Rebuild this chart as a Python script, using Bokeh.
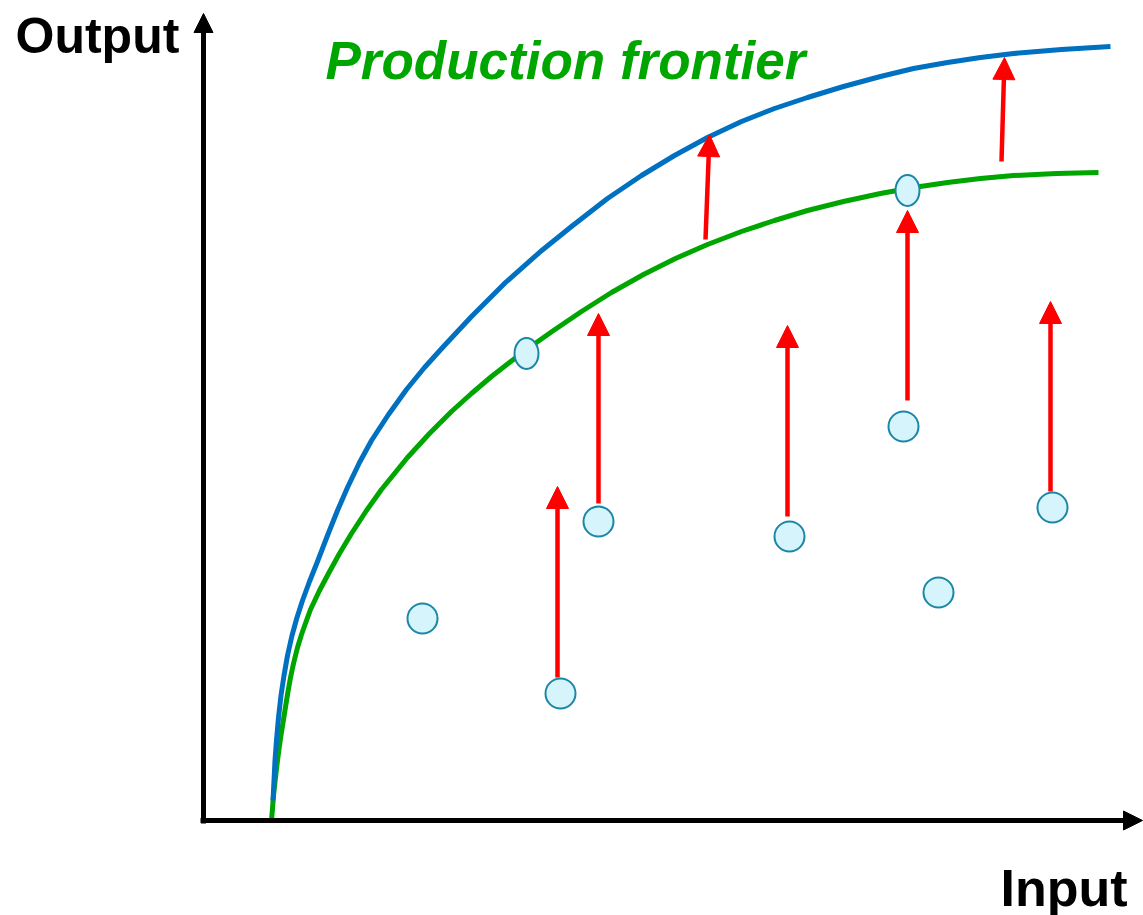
from bokeh.plotting import figure
from bokeh.models import ColumnDataSource, Arrow, NormalHead, Label, Range1d
from bokeh.embed import file_html
from bokeh.resources import INLINE

# ---- data (input / output units; origin at the axis corner) ----
green_input = [68, 69, 70, 72, 74, 77, 80, 84, 87, 90, 94, 98, 103, 107, 116,
               125, 136, 148, 163, 178, 191, 204, 226, 248, 268, 288, 306, 323, 350, 378,
               408, 440, 472, 504, 538, 571, 604, 640, 677, 710, 744, 777, 810, 853, 895]
green_output = [0, 12, 25, 43, 60, 82, 101, 126, 143, 157, 173, 186, 200, 211, 230,
                247, 267, 287, 310, 331, 347, 363, 387, 409, 427, 444, 458, 471, 490, 509,
                528, 546, 562, 576, 589, 600, 610, 619, 627, 633, 638, 642, 645, 647, 648]

blue_input = [69.5, 70.5, 71.5, 73, 75, 77.5, 80.5, 84, 88.5, 93.5, 99, 106, 114, 124,
              134, 144, 156, 168, 185, 203, 221, 240, 268, 302, 337, 368, 404, 438, 471,
              504, 538, 571, 604, 640, 677, 710, 744, 777, 810, 858, 907]
blue_output = [20, 40, 60, 80, 103, 125, 145, 165, 185, 203, 220, 239, 259, 285,
               310, 333, 358, 380, 406, 431, 453, 474, 504, 538, 569, 594, 622, 645, 665,
               683, 699, 712, 723, 734, 744, 752, 758, 763, 767, 771, 774]

firm_input = [219, 357, 395, 586, 700, 735, 849]
firm_output = [202, 127, 299, 284, 394, 228, 313]

frontier_firm_input = [323, 704]
frontier_firm_output = [467, 630]

arrow_x_start = [354, 395, 584, 704, 847, 502, 798]
arrow_y_start = [143, 317, 304, 420, 329, 581, 659]
arrow_x_end = [354, 395, 584, 704, 847, 506, 801]
arrow_y_end = [334, 507, 495, 610, 519, 686, 763]

GREEN = "#00A600"
BLUE = "#0070C0"
RED = "#FF0000"

p = figure(width=1143, height=915, output_backend="svg", toolbar_location=None,
           x_range=Range1d(-203, 940), y_range=Range1d(-95, 820),
           x_axis_location=None, y_axis_location=None, min_border=0)
p.outline_line_color = None
p.xgrid.visible = False
p.ygrid.visible = False
p.background_fill_color = "white"
p.border_fill_color = "white"

# axes drawn as arrows
axes_src = ColumnDataSource(dict(x0=[0, -3], y0=[-3, 0], x1=[0, 939], y1=[807, 0]))
p.add_layout(Arrow(source=axes_src, x_start="x0", y_start="y0", x_end="x1", y_end="y1",
                   line_color="black", line_width=5,
                   end=NormalHead(size=19, fill_color="black", line_color="black", line_width=1)))

# frontiers
p.line(green_input, green_output, line_color=GREEN, line_width=5, line_join="round")
p.line(blue_input, blue_output, line_color=BLUE, line_width=5, line_join="round")

# red arrows
arr_src = ColumnDataSource(dict(x0=arrow_x_start, y0=arrow_y_start, x1=arrow_x_end, y1=arrow_y_end))
p.add_layout(Arrow(source=arr_src, x_start="x0", y_start="y0", x_end="x1", y_end="y1",
                   line_color=RED, line_width=4.5,
                   end=NormalHead(size=22, fill_color=RED, line_color=RED, line_width=1)))

# firms
p.ellipse(firm_input, firm_output, width=30, height=30,
          fill_color="#D5F4FC", line_color="#1B87A6", line_width=2)
p.ellipse(frontier_firm_input, frontier_firm_output, width=24, height=31,
          fill_color="#D5F4FC", line_color="#1B87A6", line_width=2)

# labels
p.add_layout(Label(x=-188, y=785, text="Output", text_font="Liberation Sans",
                   text_font_style="bold", text_font_size="50px", text_color="black",
                   text_baseline="alphabetic"))
p.add_layout(Label(x=797, y=-67, text="Input", text_font="Liberation Sans",
                   text_font_style="bold", text_font_size="52px", text_color="black",
                   text_baseline="alphabetic"))
p.add_layout(Label(x=122, y=760, text="Production frontier", text_font="Liberation Sans",
                   text_font_style="bold italic", text_font_size="53px", text_color=GREEN,
                   text_baseline="alphabetic"))

open("out.html", "w").write(file_html(p, INLINE))
